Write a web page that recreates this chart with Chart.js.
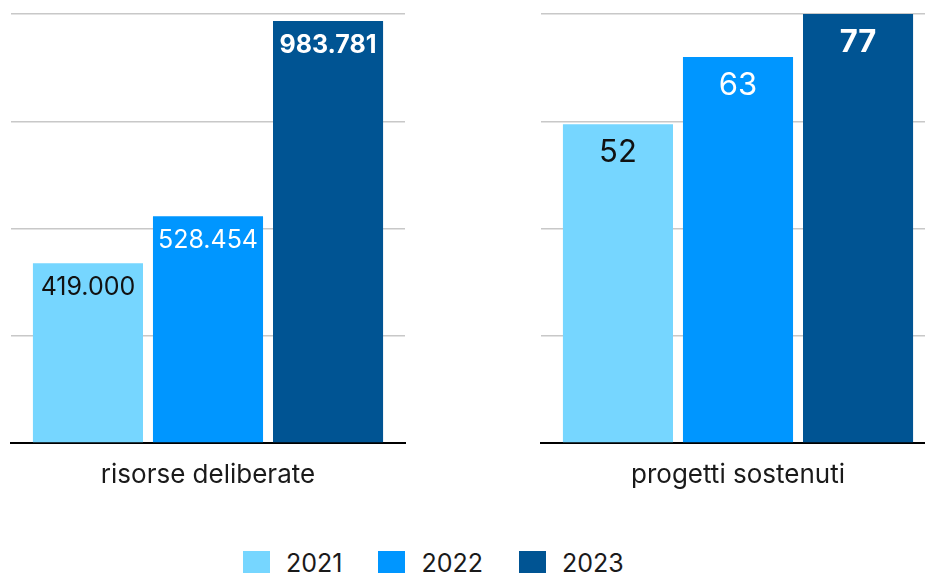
<!DOCTYPE html>
<html lang="it">
<head>
<meta charset="utf-8">
<title>Risorse e progetti 2021-2023</title>
<script src="https://cdn.jsdelivr.net/npm/chart.js@4/dist/chart.umd.min.js"></script>
<style>
  html, body { margin: 0; padding: 0; background: #fff; overflow: hidden; width: 925px; height: 573px; }
  .pannello { position: absolute; top: 0; height: 500px; }
  #sx { left: 0; width: 420px; }
  #dx { left: 530px; width: 420px; }
  #legenda { position: absolute; left: 243px; top: 548px; display: flex; align-items: center;
             font-family: Inter, sans-serif; font-size: 25px; color: #1a1a1a; }
  #legenda span.voce { display: flex; align-items: center; margin-right: 36px; }
  #legenda i { display: inline-block; width: 27px; height: 25px; margin-right: 16px; }
</style>
</head>
<body>
<div class="pannello" id="sx"><canvas id="graficoRisorse"></canvas></div>
<div class="pannello" id="dx"><canvas id="graficoProgetti"></canvas></div>
<div id="legenda"></div>
<script>
const anni = ['2021', '2022', '2023'];
const risorse = [419000, 528454, 983781];
const progetti = [52, 63, 77];
const categorie = ['risorse deliberate', 'progetti sostenuti'];
// griglia: 4 intervalli per pannello
const scalaRisorse = { max: 1000000, passo: 250000 };
const scalaProgetti = { max: 70, passo: 17.5 };

const colori = ['#76D6FF', '#0096FF', '#005493'];
const coloriTesto = ['#111111', '#ffffff', '#ffffff'];
const pesiTesto = ['normal', 'normal', 'bold'];

function formatta(v) {
  return String(v).replace(/\B(?=(\d{3})+(?!\d))/g, '.');
}

// etichette dentro le barre, vicino alla cima
const etichette = {
  id: 'etichette',
  afterDatasetsDraw(chart, args, opts) {
    const c = chart.ctx;
    const area = chart.chartArea;
    c.save();
    c.textAlign = 'center';
    c.textBaseline = 'alphabetic';
    chart.data.datasets.forEach((ds, i) => {
      chart.getDatasetMeta(i).data.forEach((bar, j) => {
        const top = Math.max(bar.y, area.top);
        c.font = pesiTesto[i] + ' ' + opts.size + 'px Inter, sans-serif';
        c.fillStyle = coloriTesto[i];
        c.fillText(formatta(ds.data[j]), bar.x, top + opts.offset);
      });
    });
    c.restore();
  }
};

function creaGrafico(id, categoria, valori, scala, etich) {
  return new Chart(document.getElementById(id), {
    type: 'bar',
    data: {
      labels: [categoria],
      datasets: anni.map((a, i) => ({
        label: a,
        data: [valori[i]],
        backgroundColor: colori[i],
        categoryPercentage: 0.914,
        barPercentage: 0.917
      }))
    },
    options: {
      responsive: true,
      maintainAspectRatio: false,
      animation: false,
      layout: { padding: { left: 11, top: 14, right: 15, bottom: 0 } },
      plugins: { legend: { display: false }, tooltip: { enabled: false }, etichette: etich },
      scales: {
        x: {
          grid: { display: false, drawTicks: false },
          border: { color: '#000', width: 2 },
          ticks: { color: '#1a1a1a', font: { family: 'Inter', size: 26 }, padding: 17 },
          afterFit: s => { s.height = 57; }
        },
        y: {
          min: 0,
          max: scala.max,
          ticks: { display: false, stepSize: scala.passo },
          grid: { color: '#c8c8c8', lineWidth: 1.5, drawTicks: false },
          border: { display: false }
        }
      }
    },
    plugins: [etichette]
  });
}

creaGrafico('graficoRisorse', categorie[0], risorse, scalaRisorse, { size: 25, offset: 32 });
creaGrafico('graficoProgetti', categorie[1], progetti, scalaProgetti, { size: 31, offset: 38 });

// legenda comune ai due pannelli
const legenda = document.getElementById('legenda');
anni.forEach((a, i) => {
  const voce = document.createElement('span');
  voce.className = 'voce';
  voce.innerHTML = '<i style="background:' + colori[i] + '"></i>' + a;
  legenda.appendChild(voce);
});
</script>
</body>
</html>
